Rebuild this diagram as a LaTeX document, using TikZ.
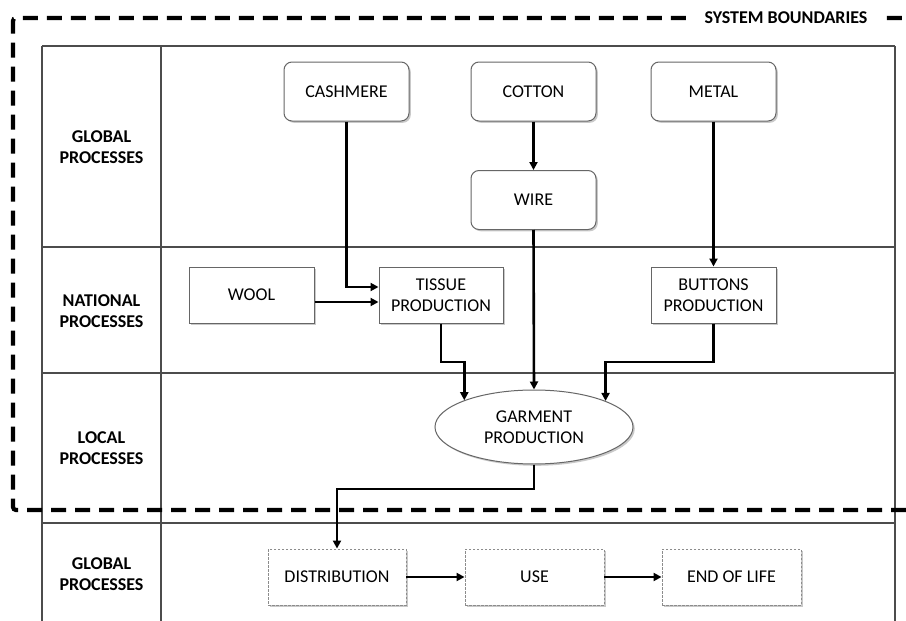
\documentclass[tikz,border=0pt]{standalone}
\usepackage{fontspec}
\setmainfont{Carlito}
\usetikzlibrary{arrows.meta,shapes.geometric,shadows}
\tikzset{
  tbl/.style={draw=black!70, line width=1.7pt},
  boundary/.style={line width=4.2pt, dash pattern=on 15pt off 9pt, rounded corners=3pt},
  lbl/.style={font=\bfseries\fontsize{18}{21.5}\selectfont, align=center},
  basebox/.style={font=\fontsize{18}{21.5}\selectfont, align=center, fill=white,
     draw=black!60, line width=1pt, inner sep=0pt,
     drop shadow={shadow xshift=1.8pt, shadow yshift=-1.8pt, fill=black!35, opacity=0.6}},
  rbox/.style={basebox, rounded corners=8pt, minimum width=125pt, minimum height=59pt},
  sbox/.style={basebox, minimum width=125pt, minimum height=56pt},
  ebox/.style={basebox, draw=black!45, dash pattern=on 2.5pt off 1.5pt, line width=0.9pt,
     minimum width=139pt, minimum height=56pt},
  gbox/.style={basebox, ellipse, minimum width=198pt, minimum height=74pt},
  arr/.style={line width=2.6pt, -{Triangle[length=8pt,width=8pt]}},
}
\begin{document}
\begin{tikzpicture}[x=1pt,y=-1pt]
\useasboundingbox (0,0) rectangle (906,621);
\clip (0,0) rectangle (906,621);
\fill[white] (0,0) rectangle (906,621);
% table
\draw[tbl] (42,46) -- (895,46);
\draw[tbl] (42,247) -- (895,247);
\draw[tbl] (42,373) -- (895,373);
\draw[tbl] (42,523) -- (895,523);
\draw[tbl] (42,46) -- (42,630);
\draw[tbl] (161,46) -- (161,630);
\draw[tbl] (895,46) -- (895,630);
% row labels
\node[lbl] (l1) at (101.5,147) {GLOBAL\\PROCESSES};
\node[lbl] (l2) at (101.5,311) {NATIONAL\\PROCESSES};
\node[lbl] (l3) at (101.5,448) {LOCAL\\PROCESSES};
\node[lbl] (l4) at (101.5,574) {GLOBAL\\PROCESSES};
% system boundary
\draw[boundary] (930,510) -- (13,510) -- (13,18) -- (930,18);
\node[font=\bfseries\fontsize{18}{20}\selectfont, fill=white, inner xsep=16pt, inner ysep=3pt] (sb) at (786,18) {SYSTEM BOUNDARIES};
% nodes
\node[rbox] (cashmere) at (346.5,91.5) {CASHMERE};
\node[rbox] (cotton) at (533.5,91.5) {COTTON};
\node[rbox] (metal) at (713.5,91.5) {METAL};
\node[rbox] (wire) at (533.5,200) {WIRE};
\node[sbox] (wool) at (251.5,295) {WOOL};
\node[sbox, minimum width=124pt] (tissue) at (441,295) {TISSUE\\PRODUCTION};
\node[sbox] (buttons) at (713.5,295) {BUTTONS\\PRODUCTION};
\node[gbox] (garment) at (534,427) {GARMENT\\PRODUCTION};
\node[ebox, minimum width=138pt] (distribution) at (337,577) {DISTRIBUTION};
\node[ebox] (use) at (534.5,577) {USE};
\node[ebox] (eol) at (731.5,577) {END OF LIFE};
% junction rows
\coordinate (tj) at (0,362);
\coordinate (gj) at (0,489);
% connectors
\draw[arr] (cashmere.south) |- ([yshift=8pt]tissue.west);
\draw[arr] ([yshift=-7pt]wool.east) -- ([yshift=-7pt]tissue.west);
\draw[arr] (cotton.south) -- (wire.north);
\draw[arr] (metal.south) -- (buttons.north);
\draw[arr] (wire.south) -- (garment.north);
\draw[arr] (tissue.south) |- (tj -| garment.159.6) -- (garment.159.6);
\draw[arr] (buttons.south) |- (tj -| garment.20.4) -- (garment.20.4);
\draw[arr] (garment.south) -- (gj -| garment.south) -| (distribution.north);
\draw[arr] (distribution.east) -- (use.west);
\draw[arr] (use.east) -- (eol.west);
\end{tikzpicture}
\end{document}
